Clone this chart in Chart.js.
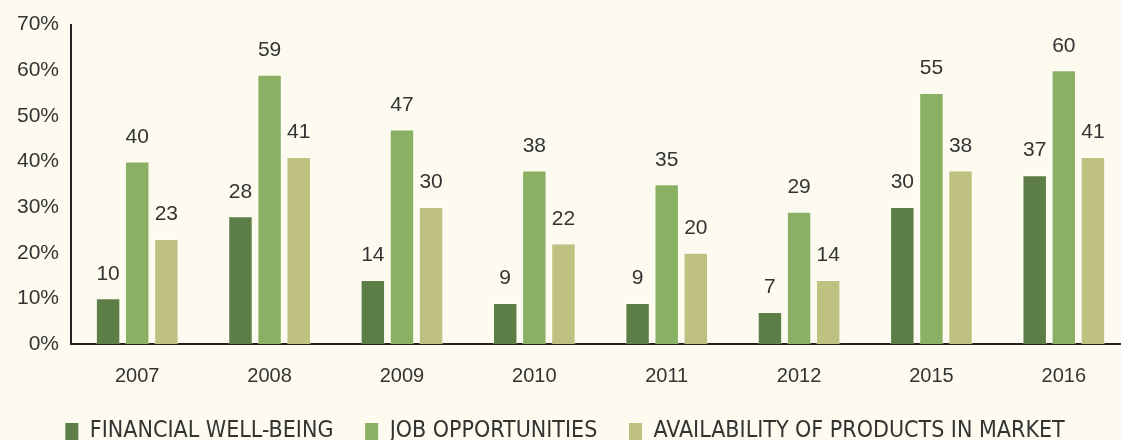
<!DOCTYPE html>
<html>
<head>
<meta charset="utf-8">
<script src="https://cdn.jsdelivr.net/npm/chart.js@4"></script>
<style>
  html, body { margin: 0; padding: 0; background: #fdfbef; overflow: hidden; }
  /* slightly wider than the window: the original plot runs off the right edge */
  #wrap { width: 1130px; height: 440px; position: relative; }
</style>
</head>
<body>
<div id="wrap"><canvas id="c"></canvas></div>
<script>
// survey years and the three series (percent)
const years = ['2007', '2008', '2009', '2010', '2011', '2012', '2015', '2016'];
const financial = [10, 28, 14, 9, 9, 7, 30, 37];
const jobs = [40, 59, 47, 38, 35, 29, 55, 60];
const products = [23, 41, 30, 22, 20, 14, 38, 41];
const seriesNames = ['FINANCIAL WELL-BEING', 'JOB OPPORTUNITIES', 'AVAILABILITY OF PRODUCTS IN MARKET'];
const colors = ['#5e7e47', '#8ab163', '#bec17f'];

const FONT = '"Liberation Sans", Arial, sans-serif';
const INK = '#333333';

// values above each bar
const barLabels = {
  id: 'barLabels',
  afterDatasetsDraw(chart) {
    const c = chart.ctx;
    c.save();
    c.font = '21px ' + FONT;
    c.fillStyle = INK;
    c.textAlign = 'center';
    c.textBaseline = 'bottom';
    chart.data.datasets.forEach((ds, i) => {
      chart.getDatasetMeta(i).data.forEach((bar, j) => {
        c.fillText(ds.data[j], bar.x, bar.y - 14);
      });
    });
    c.restore();
  }
};

new Chart(document.getElementById('c'), {
  type: 'bar',
  data: {
    labels: years,
    datasets: [financial, jobs, products].map((d, i) => ({
      label: seriesNames[i],
      data: d,
      backgroundColor: colors[i],
      borderColor: 'rgba(255,255,255,0.35)',
      borderWidth: 1,
      barPercentage: 0.84,
      categoryPercentage: 0.66,
    })),
  },
  options: {
    responsive: true, maintainAspectRatio: false, animation: false,
    layout: { padding: { top: 0, left: 0, right: 0, bottom: -13 } },
    plugins: {
      legend: {
        position: 'bottom',
        labels: {
          color: INK,
          font: { family: '"DejaVu Sans Condensed", "Liberation Sans Narrow", sans-serif', size: 23 },
          boxWidth: 13, boxHeight: 17, padding: 12,
          // trailing spaces widen the gap between legend entries
          generateLabels: chart => chart.data.datasets.map((ds, i) => ({
            text: i < 2 ? ds.label + '   ' : ds.label,
            fillStyle: ds.backgroundColor, strokeStyle: ds.backgroundColor,
            lineWidth: 0, datasetIndex: i, fontColor: INK,
          })),
        },
      },
      tooltip: { enabled: false },
    },
    scales: {
      x: {
        grid: { display: false, drawTicks: false },
        border: { color: '#222', width: 2 },
        ticks: { color: INK, font: { family: FONT, size: 20 }, padding: 20 },
      },
      y: {
        min: 0, max: 70,
        grid: { display: false, drawTicks: false },
        border: { color: '#222', width: 2 },
        ticks: { stepSize: 10, color: INK, font: { family: FONT, size: 21 }, padding: 12, callback: v => v + '%' },
        // push the axis line a little further right without raising the top
        afterFit: scale => { scale.width += 5; },
      },
    },
  },
  plugins: [barLabels],
});
</script>
</body>
</html>
